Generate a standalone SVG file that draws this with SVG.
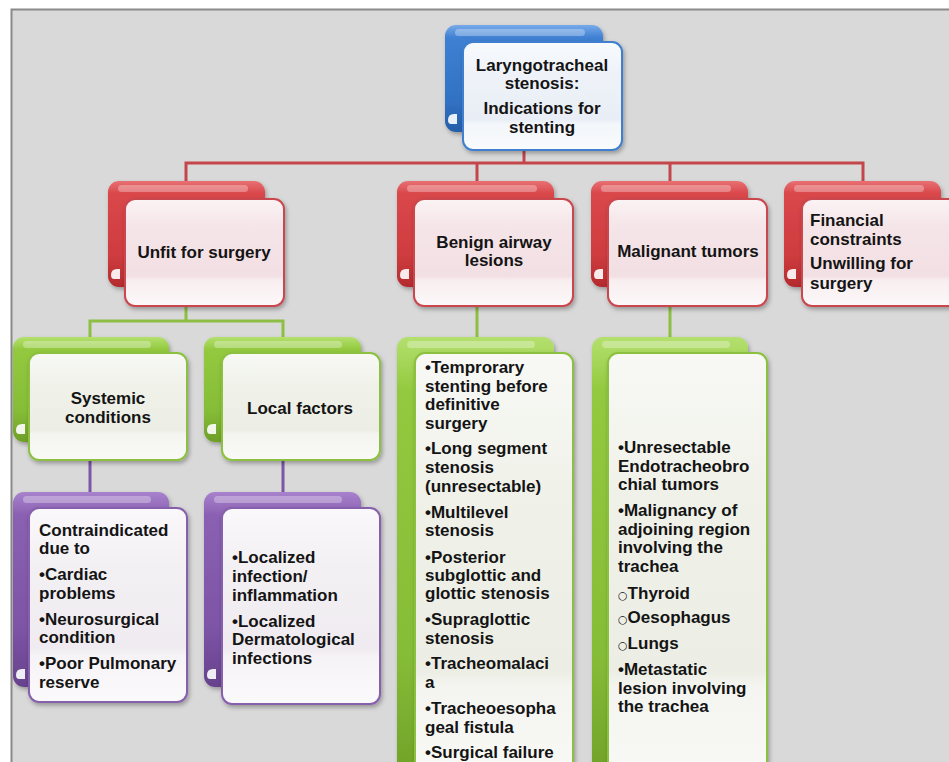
<svg xmlns="http://www.w3.org/2000/svg" width="949" height="762" viewBox="0 0 949 762">
<style>
.t{font-family:"Liberation Sans",Arial,"DejaVu Sans",sans-serif;font-weight:bold;font-size:17px;fill:#141414}
.c{text-anchor:middle}
.hb{font-family:"DejaVu Sans",sans-serif;font-weight:normal;font-size:11px}
.fr{stroke:#c9474d;stroke-width:2;fill:url(#rf)}
.fg{stroke:#8cc13f;stroke-width:2;fill:url(#gf)}
.fp{stroke:#8760ad;stroke-width:2;fill:url(#pf)}
.fb{stroke:#3f7fcf;stroke-width:2;fill:url(#bf)}
.br{fill:url(#rb)}
.bg{fill:url(#gb)}
.bp{fill:url(#pb)}
.bb{fill:url(#bb)}
.hl{fill:#ffffff;opacity:.3}
.curl{fill:#ffffff;opacity:.9}
.lr{stroke:#c4464b;stroke-width:3;fill:none}
.lg{stroke:#8dbf45;stroke-width:3;fill:none}
.lp{stroke:#7d56a6;stroke-width:3;fill:none}
</style>
<defs>
<filter id="sh" x="-10%" y="-10%" width="125%" height="125%">
<feDropShadow dx="1.5" dy="2.5" stdDeviation="2" flood-color="#000" flood-opacity="0.3"/>
</filter>
<linearGradient id="rb" x1="0" y1="0" x2="0" y2="1">
<stop offset="0" stop-color="#e87073"/><stop offset="0.12" stop-color="#d9474a"/><stop offset="0.7" stop-color="#cf3c3f"/><stop offset="1" stop-color="#b32b2e"/>
</linearGradient>
<linearGradient id="gb" x1="0" y1="0" x2="0" y2="1">
<stop offset="0" stop-color="#b4e06e"/><stop offset="0.12" stop-color="#93c93f"/><stop offset="0.7" stop-color="#86bd37"/><stop offset="1" stop-color="#6e9f28"/>
</linearGradient>
<linearGradient id="pb" x1="0" y1="0" x2="0" y2="1">
<stop offset="0" stop-color="#a882cc"/><stop offset="0.12" stop-color="#8a60b2"/><stop offset="0.7" stop-color="#7d54a6"/><stop offset="1" stop-color="#66428c"/>
</linearGradient>
<linearGradient id="bb" x1="0" y1="0" x2="0" y2="1">
<stop offset="0" stop-color="#78aaea"/><stop offset="0.12" stop-color="#3f80d2"/><stop offset="0.7" stop-color="#3272c4"/><stop offset="1" stop-color="#255ea8"/>
</linearGradient>
<linearGradient id="rf" x1="0" y1="0" x2="0" y2="1">
<stop offset="0" stop-color="#fbf3f4"/><stop offset="0.25" stop-color="#f5e5e8"/><stop offset="0.72" stop-color="#f2dfe3"/><stop offset="0.76" stop-color="#f8eef0"/><stop offset="1" stop-color="#fcf8f9"/>
</linearGradient>
<linearGradient id="gf" x1="0" y1="0" x2="0" y2="1">
<stop offset="0" stop-color="#f8f9f5"/><stop offset="0.3" stop-color="#f0f2ea"/><stop offset="0.72" stop-color="#eceee5"/><stop offset="0.76" stop-color="#f4f5f0"/><stop offset="1" stop-color="#f9faf7"/>
</linearGradient>
<linearGradient id="pf" x1="0" y1="0" x2="0" y2="1">
<stop offset="0" stop-color="#faf8fb"/><stop offset="0.3" stop-color="#f3f0f4"/><stop offset="0.72" stop-color="#efebf0"/><stop offset="0.76" stop-color="#f6f3f6"/><stop offset="1" stop-color="#fbfafb"/>
</linearGradient>
<linearGradient id="bf" x1="0" y1="0" x2="0" y2="1">
<stop offset="0" stop-color="#f8fafd"/><stop offset="0.3" stop-color="#eef2f8"/><stop offset="0.72" stop-color="#e9eef6"/><stop offset="0.76" stop-color="#f3f6fa"/><stop offset="1" stop-color="#f9fbfd"/>
</linearGradient>
</defs>

<g id="background">
<rect x="0" y="0" width="949" height="762" fill="#ffffff"/>
<rect x="11" y="9" width="938" height="753" fill="#d9d9d9"/>
<path d="M11.5 762 V9.5 H949" stroke="#8a8a8a" stroke-width="2" fill="none"/>
</g>

<g id="connectors">
<path class="lr" d="M524 140 V163 M186 181 V163 H863 V181 M477 163 V181 M670 163 V181"/>
<path class="lg" d="M186 300 V321 M90 337 V321 H283 V337 M477 300 V337 M670 300 V337"/>
<path class="lp" d="M90 455 V492 M283 455 V492"/>
</g>

<g id="root">
<rect class="bb" x="445" y="25" width="158" height="107" rx="11" filter="url(#sh)"/>
<rect class="hl" x="455" y="29" width="130" height="7" rx="3.5"/>
<path class="curl" d="M448 120 q0 -6 6 -6 h3 v10 h-6 q-3 0 -3 -4z"/>
<rect class="fb" x="463" y="42" width="159" height="108" rx="10" filter="url(#sh)"/>
<text class="t c" x="542" y="71">Laryngotracheal</text>
<text class="t c" x="542" y="89">stenosis:</text>
<text class="t c" x="542" y="114">Indications for</text>
<text class="t c" x="542" y="133">stenting</text>
</g>

<g id="unfit">
<rect class="br" x="108" y="181" width="157" height="106" rx="11" filter="url(#sh)"/>
<rect class="hl" x="118" y="185" width="130" height="7" rx="3.5"/>
<path class="curl" d="M111 275 q0 -6 6 -6 h3 v10 h-6 q-3 0 -3 -4z"/>
<rect class="fr" x="125" y="199" width="159" height="107" rx="10" filter="url(#sh)"/>
<text class="t c" x="204" y="258">Unfit for surgery</text>
</g>

<g id="benign">
<rect class="br" x="397" y="181" width="157" height="106" rx="11" filter="url(#sh)"/>
<rect class="hl" x="407" y="185" width="130" height="7" rx="3.5"/>
<path class="curl" d="M400 275 q0 -6 6 -6 h3 v10 h-6 q-3 0 -3 -4z"/>
<rect class="fr" x="414" y="199" width="159" height="107" rx="10" filter="url(#sh)"/>
<text class="t c" x="494" y="248">Benign airway</text>
<text class="t c" x="494" y="266">lesions</text>
</g>

<g id="malignant">
<rect class="br" x="591" y="181" width="157" height="106" rx="11" filter="url(#sh)"/>
<rect class="hl" x="601" y="185" width="130" height="7" rx="3.5"/>
<path class="curl" d="M594 275 q0 -6 6 -6 h3 v10 h-6 q-3 0 -3 -4z"/>
<rect class="fr" x="608" y="199" width="159" height="107" rx="10" filter="url(#sh)"/>
<text class="t c" x="688" y="257">Malignant tumors</text>
</g>

<g id="financial">
<rect class="br" x="784" y="181" width="157" height="106" rx="11" filter="url(#sh)"/>
<rect class="hl" x="794" y="185" width="130" height="7" rx="3.5"/>
<path class="curl" d="M787 275 q0 -6 6 -6 h3 v10 h-6 q-3 0 -3 -4z"/>
<rect class="fr" x="802" y="199" width="159" height="107" rx="10" filter="url(#sh)"/>
<text class="t" x="810" y="226">Financial</text>
<text class="t" x="810" y="245">constraints</text>
<text class="t" x="810" y="269">Unwilling for</text>
<text class="t" x="810" y="289">surgery</text>
</g>

<g id="systemic">
<rect class="bg" x="13" y="337" width="156" height="105" rx="11" filter="url(#sh)"/>
<rect class="hl" x="23" y="341" width="128" height="7" rx="3.5"/>
<path class="curl" d="M16 430 q0 -6 6 -6 h3 v10 h-6 q-3 0 -3 -4z"/>
<rect class="fg" x="29" y="353" width="158" height="107" rx="10" filter="url(#sh)"/>
<text class="t c" x="108" y="404">Systemic</text>
<text class="t c" x="108" y="423">conditions</text>
</g>

<g id="local">
<rect class="bg" x="204" y="337" width="157" height="105" rx="11" filter="url(#sh)"/>
<rect class="hl" x="214" y="341" width="128" height="7" rx="3.5"/>
<path class="curl" d="M207 430 q0 -6 6 -6 h3 v10 h-6 q-3 0 -3 -4z"/>
<rect class="fg" x="222" y="353" width="158" height="107" rx="10" filter="url(#sh)"/>
<text class="t c" x="300" y="414">Local factors</text>
</g>

<g id="systemic-list">
<rect class="bp" x="13" y="492" width="156" height="195" rx="11" filter="url(#sh)"/>
<rect class="hl" x="23" y="496" width="128" height="7" rx="3.5"/>
<path class="curl" d="M16 675 q0 -6 6 -6 h3 v10 h-6 q-3 0 -3 -4z"/>
<rect class="fp" x="29" y="508" width="158" height="194" rx="10" filter="url(#sh)"/>
<text class="t" x="39" y="536">Contraindicated</text>
<text class="t" x="39" y="554">due to</text>
<text class="t" x="39" y="580">•Cardiac</text>
<text class="t" x="39" y="599">problems</text>
<text class="t" x="39" y="625">•Neurosurgical</text>
<text class="t" x="39" y="643">condition</text>
<text class="t" x="39" y="669">•Poor Pulmonary</text>
<text class="t" x="39" y="688">reserve</text>
</g>

<g id="local-list">
<rect class="bp" x="204" y="492" width="157" height="195" rx="11" filter="url(#sh)"/>
<rect class="hl" x="214" y="496" width="128" height="7" rx="3.5"/>
<path class="curl" d="M207 675 q0 -6 6 -6 h3 v10 h-6 q-3 0 -3 -4z"/>
<rect class="fp" x="222" y="508" width="158" height="196" rx="10" filter="url(#sh)"/>
<text class="t" x="232" y="563">•Localized</text>
<text class="t" x="232" y="582">infection/</text>
<text class="t" x="232" y="601">inflammation</text>
<text class="t" x="232" y="627">•Localized</text>
<text class="t" x="232" y="645">Dermatological</text>
<text class="t" x="232" y="664">infections</text>
</g>

<g id="benign-list">
<rect class="bg" x="397" y="337" width="157" height="450" rx="11" filter="url(#sh)"/>
<rect class="hl" x="407" y="341" width="128" height="7" rx="3.5"/>
<rect class="fg" x="415" y="353" width="158" height="440" rx="10" filter="url(#sh)"/>
<text class="t" x="425" y="373">•Temprorary</text>
<text class="t" x="425" y="392">stenting before</text>
<text class="t" x="425" y="410">definitive</text>
<text class="t" x="425" y="429">surgery</text>
<text class="t" x="425" y="454">•Long segment</text>
<text class="t" x="425" y="473">stenosis</text>
<text class="t" x="425" y="492">(unresectable)</text>
<text class="t" x="425" y="518">•Multilevel</text>
<text class="t" x="425" y="536">stenosis</text>
<text class="t" x="425" y="563">•Posterior</text>
<text class="t" x="425" y="581">subglottic and</text>
<text class="t" x="425" y="599">glottic stenosis</text>
<text class="t" x="425" y="625">•Supraglottic</text>
<text class="t" x="425" y="644">stenosis</text>
<text class="t" x="425" y="669">•Tracheomalaci</text>
<text class="t" x="425" y="688">a</text>
<text class="t" x="425" y="714">•Tracheoesopha</text>
<text class="t" x="425" y="733">geal fistula</text>
<text class="t" x="425" y="758">•Surgical failure</text>
</g>

<g id="malignant-list">
<rect class="bg" x="592" y="337" width="156" height="450" rx="11" filter="url(#sh)"/>
<rect class="hl" x="602" y="341" width="128" height="7" rx="3.5"/>
<rect class="fg" x="608" y="353" width="159" height="440" rx="10" filter="url(#sh)"/>
<text class="t" x="618" y="453">•Unresectable</text>
<text class="t" x="618" y="472">Endotracheobro</text>
<text class="t" x="618" y="490">chial tumors</text>
<text class="t" x="618" y="516">•Malignancy of</text>
<text class="t" x="618" y="535">adjoining region</text>
<text class="t" x="618" y="553">involving the</text>
<text class="t" x="618" y="572">trachea</text>
<text class="t" x="618" y="599"><tspan class="hb">○</tspan>Thyroid</text>
<text class="t" x="618" y="623"><tspan class="hb">○</tspan>Oesophagus</text>
<text class="t" x="618" y="649"><tspan class="hb">○</tspan>Lungs</text>
<text class="t" x="618" y="675">•Metastatic</text>
<text class="t" x="618" y="694">lesion involving</text>
<text class="t" x="618" y="712">the trachea</text>
</g>
</svg>
